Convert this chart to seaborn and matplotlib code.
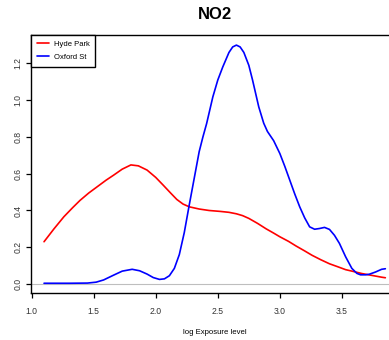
import pandas as pd
import matplotlib
matplotlib.use("Agg")
import matplotlib.pyplot as plt
import seaborn as sns

# density curves (log exposure level vs density)
hyde_x = [1.10, 1.18, 1.26, 1.33, 1.39, 1.46, 1.53, 1.60, 1.66, 1.73, 1.80, 1.86,
          1.93, 2.00, 2.06, 2.12, 2.17, 2.22, 2.27, 2.35, 2.43, 2.52, 2.59, 2.65,
          2.70, 2.75, 2.82, 2.89, 2.95, 3.00, 3.07, 3.13, 3.20, 3.26, 3.33, 3.40,
          3.47, 3.53, 3.60, 3.66, 3.74, 3.82, 3.85]
hyde_y = [0.23, 0.30, 0.366, 0.415, 0.455, 0.495, 0.53, 0.565, 0.592, 0.625, 0.648, 0.643,
          0.62, 0.58, 0.538, 0.495, 0.46, 0.435, 0.42, 0.408, 0.40, 0.395, 0.39, 0.382,
          0.372, 0.357, 0.33, 0.30, 0.277, 0.257, 0.232, 0.207, 0.18, 0.156, 0.132, 0.11,
          0.093, 0.078, 0.067, 0.057, 0.047, 0.037, 0.034]

oxford_x = [1.10, 1.30, 1.45, 1.52, 1.58, 1.66, 1.73, 1.81, 1.87, 1.93, 1.98, 2.03,
            2.07, 2.11, 2.15, 2.19, 2.23, 2.27, 2.31, 2.35, 2.38, 2.41, 2.46, 2.50,
            2.54, 2.59, 2.62, 2.65, 2.68, 2.71, 2.75, 2.78, 2.83, 2.87, 2.90, 2.95,
            3.00, 3.04, 3.08, 3.12, 3.16, 3.20, 3.24, 3.28, 3.32, 3.36, 3.40, 3.44,
            3.48, 3.53, 3.58, 3.62, 3.65, 3.69, 3.72, 3.77, 3.82, 3.85]
oxford_y = [0.004, 0.004, 0.005, 0.01, 0.022, 0.048, 0.07, 0.08, 0.072, 0.054, 0.035, 0.025,
            0.028, 0.045, 0.085, 0.16, 0.28, 0.43, 0.575, 0.72, 0.80, 0.873, 1.018, 1.11,
            1.181, 1.26, 1.29, 1.30, 1.29, 1.26, 1.19, 1.11, 0.964, 0.875, 0.83, 0.78,
            0.71, 0.64, 0.565, 0.49, 0.42, 0.36, 0.311, 0.298, 0.302, 0.308, 0.297, 0.265,
            0.221, 0.148, 0.085, 0.058, 0.05, 0.05, 0.053, 0.065, 0.08, 0.083]

sites = ["Hyde Park", "Oxford St"]
x_ticks = [1.0, 1.5, 2.0, 2.5, 3.0, 3.5]
y_ticks = [0.0, 0.2, 0.4, 0.6, 0.8, 1.0, 1.2]

df = pd.concat([
    pd.DataFrame({"x": hyde_x, "dens": hyde_y, "site": sites[0]}),
    pd.DataFrame({"x": oxford_x, "dens": oxford_y, "site": sites[1]}),
])

sns.set_style("ticks")
plt.rcParams["font.family"] = ["Liberation Sans", "DejaVu Sans"]
plt.rcParams["text.color"] = "black"
plt.rcParams["axes.labelcolor"] = "black"

fig = plt.figure(figsize=(3.89, 3.40), dpi=100)
ax = fig.add_axes([31 / 389, 1 - 293 / 340, 368 / 389, 258 / 340])

ax.axhline(0, color="#BEBEBE", lw=0.8, zorder=1)
sns.lineplot(data=df, x="x", y="dens", hue="site", hue_order=sites,
             palette={"Hyde Park": "#FF0000", "Oxford St": "#0000FF"},
             estimator=None, sort=True, lw=1.2, ax=ax)

ax.set_xlim(0.995, 3.96)
ax.set_ylim(-0.049, 1.355)
ax.set_xticks(x_ticks)
ax.set_xticklabels([f"{v:.1f}" for v in x_ticks])
ax.set_yticks(y_ticks)
ax.set_yticklabels([f"{v:.1f}" for v in y_ticks], rotation=90, va="center")
ax.tick_params(axis="both", labelsize=6.2, length=3.3, width=0.9, colors="black",
               labelcolor="#333333")
ax.tick_params(axis="x", pad=6.5)
ax.tick_params(axis="y", pad=2.8)
for s in ax.spines.values():
    s.set_linewidth(1.0)
    s.set_color("black")

ax.set_title("NO2", fontsize=12, fontweight="bold", pad=11.5, color="black")
ax.set_xlabel("log Exposure level", fontsize=5.6, labelpad=10)
ax.set_ylabel("")

ax.legend(title=None, loc="upper left", bbox_to_anchor=(0, 1), borderaxespad=0,
          fontsize=5.5, fancybox=False, edgecolor="black", framealpha=1,
          handlelength=1.6, handletextpad=0.6, labelspacing=0.75, borderpad=0.75)
ax.get_legend().get_frame().set_linewidth(1.0)

fig.savefig("out.png", dpi=100)
